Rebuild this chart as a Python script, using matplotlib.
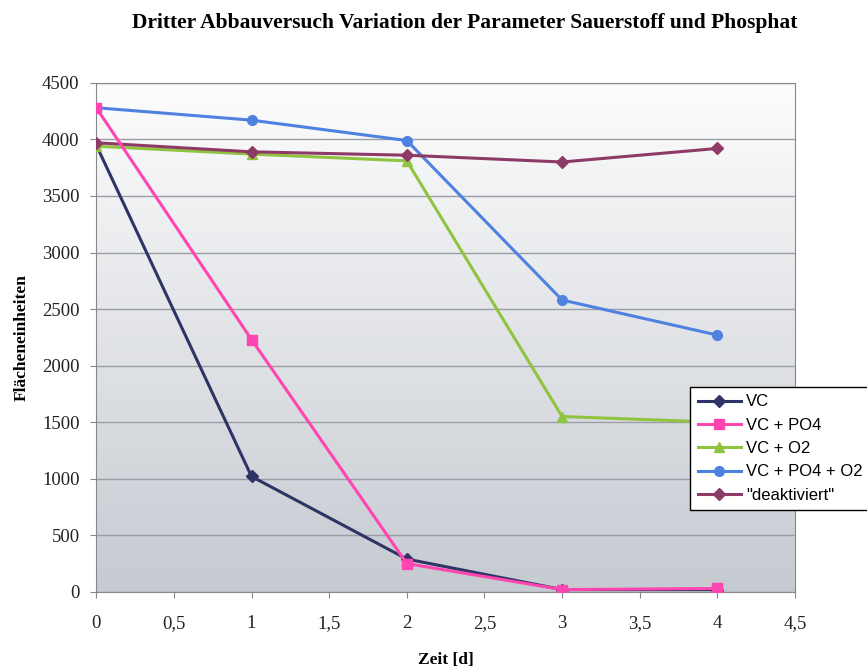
import numpy as np
import matplotlib.pyplot as plt
from matplotlib.colors import LinearSegmentedColormap
from matplotlib.ticker import FuncFormatter

zeit = [0, 1, 2, 3, 4]
vc = [3950, 1020, 290, 20, 20]
vc_po4 = [4280, 2230, 250, 20, 30]
vc_o2 = [3940, 3870, 3810, 1550, 1500]
vc_po4_o2 = [4280, 4170, 3990, 2580, 2270]
deaktiviert = [3970, 3890, 3860, 3800, 3920]

serif = 'Liberation Serif'

fig = plt.figure(figsize=(8.67, 6.68), dpi=100)
ax = fig.add_axes([0.111, 0.114, 0.806, 0.762])

# grey gradient background, lighter at the top
bg = LinearSegmentedColormap.from_list('bg', ['#fdfdfd', '#c6cad1'])
grad = np.linspace(0, 1, 256).reshape(-1, 1)
ax.imshow(grad, cmap=bg, aspect='auto', extent=[0, 4.5, 0, 4500],
          origin='upper', zorder=0)

ax.plot(zeit, vc, color='#2e3466', marker='D', ms=6, lw=2.2, label='VC', zorder=3)
ax.plot(zeit, vc_po4, color='#ff45b0', marker='s', ms=7, lw=2.2, label='VC + PO4', zorder=4)
ax.plot(zeit, vc_o2, color='#8fc440', marker='^', ms=7, lw=2.2, label='VC + O2', zorder=3)
ax.plot(zeit, vc_po4_o2, color='#4f82e0', marker='o', ms=7, lw=2.2, label='VC + PO4 + O2', zorder=3)
ax.plot(zeit, deaktiviert, color='#8e3a66', marker='D', ms=6, lw=2.2, label='"deaktiviert"', zorder=3)

ax.set_xlim(0, 4.5)
ax.set_ylim(0, 4500)
ax.set_xticks(np.arange(0, 4.51, 0.5))
ax.set_yticks(np.arange(0, 4501, 500))
ax.xaxis.set_major_formatter(FuncFormatter(lambda v, p: ('%g' % v).replace('.', ',')))
ax.yaxis.grid(True, color='#9a9ea4', lw=1)
for s in ax.spines.values():
    s.set_color('#888888')
ax.tick_params(colors='#888888', labelcolor='#222222', length=4)
ax.xaxis.set_tick_params(pad=13)
ax.yaxis.set_tick_params(pad=8)
for lbl in ax.get_xticklabels() + ax.get_yticklabels():
    lbl.set_family(serif)
    lbl.set_fontsize(13.5)

ax.set_xlabel('Zeit [d]', family=serif, fontsize=12.5, fontweight='bold', labelpad=14)
ax.set_ylabel('Flächeneinheiten', family=serif, fontsize=12.5, fontweight='bold', labelpad=9)
fig.suptitle('Dritter Abbauversuch Variation der Parameter Sauerstoff und Phosphat',
             family=serif, fontsize=15.5, fontweight='bold', x=0.536, y=0.98)

leg = ax.legend(loc='upper left', bbox_to_anchor=(690 / 867, 1 - 387 / 668),
                bbox_transform=fig.transFigure, prop={'family': 'Liberation Sans', 'size': 12},
                fancybox=False, framealpha=1, edgecolor='black', borderaxespad=0,
                handlelength=2.6, labelspacing=0.5, handletextpad=0.3, borderpad=0.45)
leg.get_frame().set_linewidth(1)

fig.savefig('out.png', dpi=100)
